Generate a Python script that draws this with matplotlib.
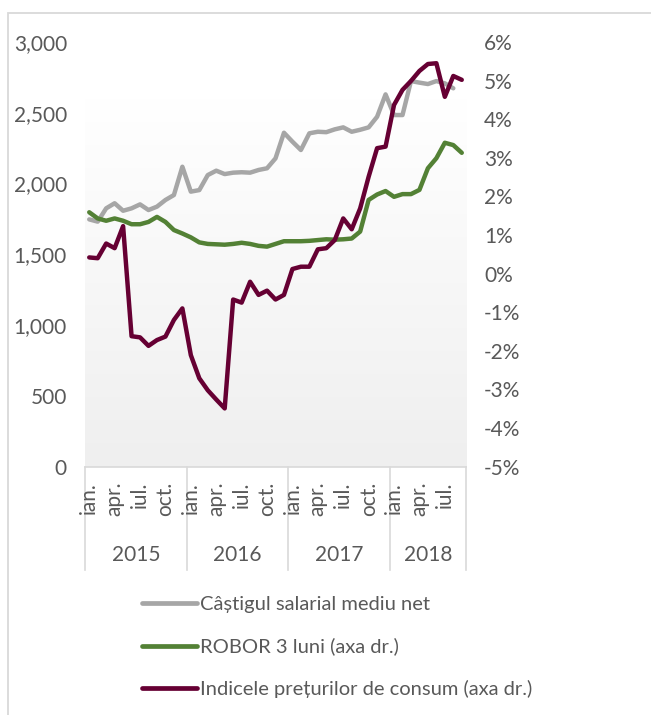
import numpy as np
import matplotlib
matplotlib.use("Agg")
import matplotlib.pyplot as plt
from matplotlib.colors import LinearSegmentedColormap
from matplotlib.lines import Line2D
from matplotlib.patches import Rectangle
import matplotlib.transforms as mtransforms
from matplotlib.ticker import FuncFormatter, MultipleLocator

plt.rcParams['font.family'] = ['Lato', 'DejaVu Sans']

# ---------------- data ----------------
years = ['2015', '2016', '2017', '2018']
months_per_year = [12, 12, 12, 9]
month_names = ['ian.', 'feb.', 'mar.', 'apr.', 'mai', 'iun.',
               'iul.', 'aug.', 'sep.', 'oct.', 'nov.', 'dec.']
shown_months = ['ian.', 'apr.', 'iul.', 'oct.']

salary = [1747, 1731, 1825, 1861, 1808, 1825, 1853, 1813, 1837, 1884, 1919, 2119,
          1943, 1954, 2060, 2091, 2067, 2077, 2080, 2077, 2096, 2108, 2178, 2359,
          2296, 2237, 2355, 2366, 2363, 2383, 2397, 2366, 2380, 2397, 2472, 2630,
          2484, 2484, 2724, 2713, 2703, 2724, 2708, 2673, np.nan]

robor = [1.59, 1.43, 1.37, 1.43, 1.37, 1.28, 1.28, 1.34, 1.47, 1.34, 1.13, 1.04,
         0.94, 0.81, 0.77, 0.76, 0.75, 0.77, 0.80, 0.77, 0.72, 0.70, 0.77, 0.84,
         0.84, 0.84, 0.85, 0.87, 0.89, 0.88, 0.89, 0.91, 1.09, 1.91, 2.05, 2.14,
         1.99, 2.06, 2.06, 2.17, 2.73, 2.99, 3.39, 3.33, 3.13]

cpi = [0.42, 0.40, 0.78, 0.66, 1.23, -1.62, -1.65, -1.87, -1.72, -1.63, -1.20, -0.90,
       -2.11, -2.71, -3.02, -3.26, -3.49, -0.67, -0.75, -0.21, -0.55, -0.44, -0.67, -0.55,
       0.12, 0.18, 0.18, 0.63, 0.66, 0.87, 1.43, 1.15, 1.69, 2.51, 3.25, 3.29,
       4.37, 4.76, 4.99, 5.25, 5.43, 5.45, 4.58, 5.12, 5.02]

labels = ['Câștigul salarial mediu net',
          'ROBOR 3 luni (axa dr.)',
          'Indicele prețurilor de consum (axa dr.)']
colors = ['#a6a6a6', '#538135', '#660033']

# ---------------- figure ----------------
W, H = 651, 715
fig = plt.figure(figsize=(W / 100, H / 100), dpi=100)
fig.patch.set_facecolor('white')

# chart-area border
fig.add_artist(Rectangle((8 / W, -0.05), 1.0, (H - 13) / H + 0.05,
                         transform=fig.transFigure, fill=False,
                         edgecolor='#d9d9d9', linewidth=1.3))

left, right = 85, 466
top, bottom = 42, 466.7
ax = fig.add_axes([left / W, (H - bottom) / H, (right - left) / W, (bottom - top) / H])

n = len(robor)
x = np.arange(n)
txt_color = '#595959'
FS = 15
PAD = 13

# gradient background of plot area (white at top -> light grey at bottom)
cmap = LinearSegmentedColormap.from_list('g', ['#ffffff', '#efefef'])
grad = np.linspace(1, 0, 256).reshape(-1, 1)
ax.imshow(grad, extent=[-0.5, n - 0.5, 0, 2600], origin='lower', aspect='auto',
          cmap=cmap, vmin=0, vmax=1, zorder=0, interpolation='bilinear')

ax.plot(x, salary, color=colors[0], lw=3.2, solid_joinstyle='round',
        solid_capstyle='round', zorder=3)
ax.set_xlim(-0.5, n - 0.5)
ax.set_ylim(0, 3000)
ax.yaxis.set_major_locator(MultipleLocator(500))
ax.yaxis.set_major_formatter(FuncFormatter(lambda v, p: f'{int(v):,}'))
ax.tick_params(axis='y', length=0, pad=PAD, labelsize=FS, labelcolor=txt_color)
ax.set_xticks([])
for s in ['top', 'right', 'left']:
    ax.spines[s].set_visible(False)
ax.spines['bottom'].set_color('#d9d9d9')
ax.spines['bottom'].set_linewidth(1.2)

ax2 = ax.twinx()
ax2.plot(x, robor, color=colors[1], lw=3.2, solid_joinstyle='round',
         solid_capstyle='round', zorder=3)
ax2.plot(x, cpi, color=colors[2], lw=3.2, solid_joinstyle='round',
         solid_capstyle='round', zorder=4)
ax2.set_ylim(-5, 6)
ax2.yaxis.set_major_locator(MultipleLocator(1))
ax2.yaxis.set_major_formatter(FuncFormatter(lambda v, p: f'{int(round(v))}%'))
ax2.tick_params(axis='y', length=0, pad=PAD, labelsize=FS, labelcolor=txt_color)
for s in ['top', 'right', 'left', 'bottom']:
    ax2.spines[s].set_visible(False)
ax2.set_xlim(-0.5, n - 0.5)

# multi-level category axis
trans = mtransforms.blended_transform_factory(ax.transData, ax.transAxes)
axis_h = bottom - top
sep_depth = (570 - bottom) / axis_h
bounds = np.concatenate([[0], np.cumsum(months_per_year)]) - 0.5
for b in bounds:
    ax.add_line(Line2D([b, b], [0, -sep_depth], transform=trans, color='#d9d9d9',
                       lw=1.2, clip_on=False))
month_y = -(482 - bottom) / axis_h
year_y = -(555 - bottom) / axis_h
idx = 0
for yr, cnt, b0, b1 in zip(years, months_per_year, bounds[:-1], bounds[1:]):
    for k in range(cnt):
        if month_names[k] in shown_months:
            ax.text(idx + k, month_y, month_names[k], transform=trans, rotation=90,
                    ha='center', va='top', fontsize=FS, color=txt_color)
    ax.text((b0 + b1) / 2, year_y, yr, transform=trans, ha='center', va='center',
            fontsize=FS, color=txt_color)
    idx += cnt

# legend
LFS = 14.5
handles = [Line2D([], [], color=c, lw=3.4, solid_capstyle='round') for c in colors]
fig.legend(handles, labels, loc='upper left', bbox_to_anchor=(142 / W, (H - 596) / H),
           frameon=False, fontsize=LFS, handlelength=2.73, handletextpad=0.15,
           labelspacing=1.22, borderpad=0, borderaxespad=0, labelcolor=txt_color)

fig.savefig('out.png', dpi=100)
